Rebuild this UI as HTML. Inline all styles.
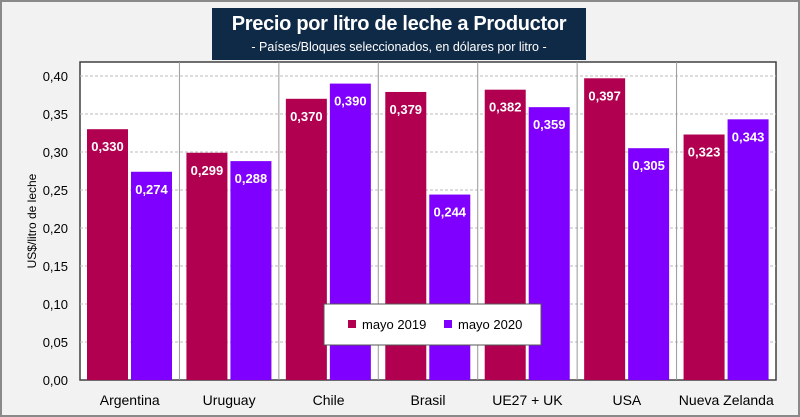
<!DOCTYPE html>
<html><head><meta charset="utf-8"><style>
body{margin:0;width:800px;height:417px;overflow:hidden;background:#f2f2f2;font-family:"Liberation Sans",sans-serif}
#frame{position:absolute;left:0;top:0;width:796px;height:413px;border:2px solid #8a8a8a;background:#f2f2f2}
#title{position:absolute;left:212px;top:8px;width:374px;height:52px;background:#0f2a47;color:#fff;text-align:center;white-space:nowrap;overflow:hidden}
#title .t{font-size:20px;font-weight:bold;margin-top:5px;letter-spacing:-0.3px}
#title .s{font-size:12.5px;margin-top:4px}
</style></head><body>
<div id="frame"></div>
<svg id="chart" width="800" height="417" style="position:absolute;left:0;top:0"></svg>
<div id="title"><div class="t">Precio por litro de leche a Productor</div><div class="s">- Países/Bloques seleccionados, en dólares por litro -</div></div>
<script>
const categories=["Argentina","Uruguay","Chile","Brasil","UE27 + UK","USA","Nueva Zelanda"];
const may2019=[0.330,0.299,0.370,0.379,0.382,0.397,0.323];
const may2020=[0.274,0.288,0.390,0.244,0.359,0.305,0.343];
const ticks=[0,0.05,0.10,0.15,0.20,0.25,0.30,0.35,0.40];
const NS="http://www.w3.org/2000/svg";
const svg=document.getElementById('chart');
const L=80,R=776,T=62,B=380;
const y=v=>B-v/0.40*(B-76);
const cw=(R-L)/categories.length;
const x=i=>L+i*cw;
function mk(tag,a,p){const e=document.createElementNS(NS,tag);for(const k in a)e.setAttribute(k,a[k]);(p||svg).appendChild(e);return e;}
const fmt=v=>v.toFixed(3).replace('.',',');
let e=mk('rect',{x:L,y:T,width:R-L,height:B-T,fill:'#fff',stroke:'#404040','stroke-width':1.5});

ticks.forEach(t=>{
 if(t>0){let g=mk('line',{x1:L,x2:R,y1:y(t),y2:y(t),stroke:'#bbb','stroke-dasharray':'3,2'});}
 let l=mk('text',{x:L-12,y:y(t)+5,'text-anchor':'end','font-size':13,fill:'#000'});l.textContent=t.toFixed(2).replace('.',',');
 
});
for(let i=1;i<categories.length;i++){let s=mk('line',{x1:x(i),x2:x(i),y1:T,y2:B,stroke:'#999'});}
const bw=41;
categories.forEach((c,i)=>{
 [[may2019[i],'#b0004f',7],[may2020[i],'#8000ff',51]].forEach(([v,col,off])=>{
  let b=mk('rect',{x:x(i)+off,y:y(v),width:bw,height:B-y(v),fill:col});
  
  let t=mk('text',{x:x(i)+off+bw/2,y:y(v)+22,'text-anchor':'middle','font-size':13,'font-weight':'bold',fill:'#fff'});t.textContent=fmt(v);
  
 });
 let l=mk('text',{x:x(i)+cw/2,y:405,'text-anchor':'middle','font-size':14,fill:'#000'});l.textContent=c;
 
});
let yt=mk('text',{x:0,y:0,transform:'translate(36,221) rotate(-90)','text-anchor':'middle','font-size':12,fill:'#000'});yt.textContent='US$/litro de leche';

let lg=mk('rect',{x:324,y:304,width:217,height:41,fill:'#fff',stroke:'#555'});

[['mayo 2019','#b0004f',348],['mayo 2020','#8000ff',444]].forEach(([n,c,lx])=>{
 let s=mk('rect',{x:lx,y:320,width:8,height:8,fill:c});
 let t=mk('text',{x:lx+14,y:329,'font-size':13,fill:'#000'});t.textContent=n;
});
</script>
</body></html>
